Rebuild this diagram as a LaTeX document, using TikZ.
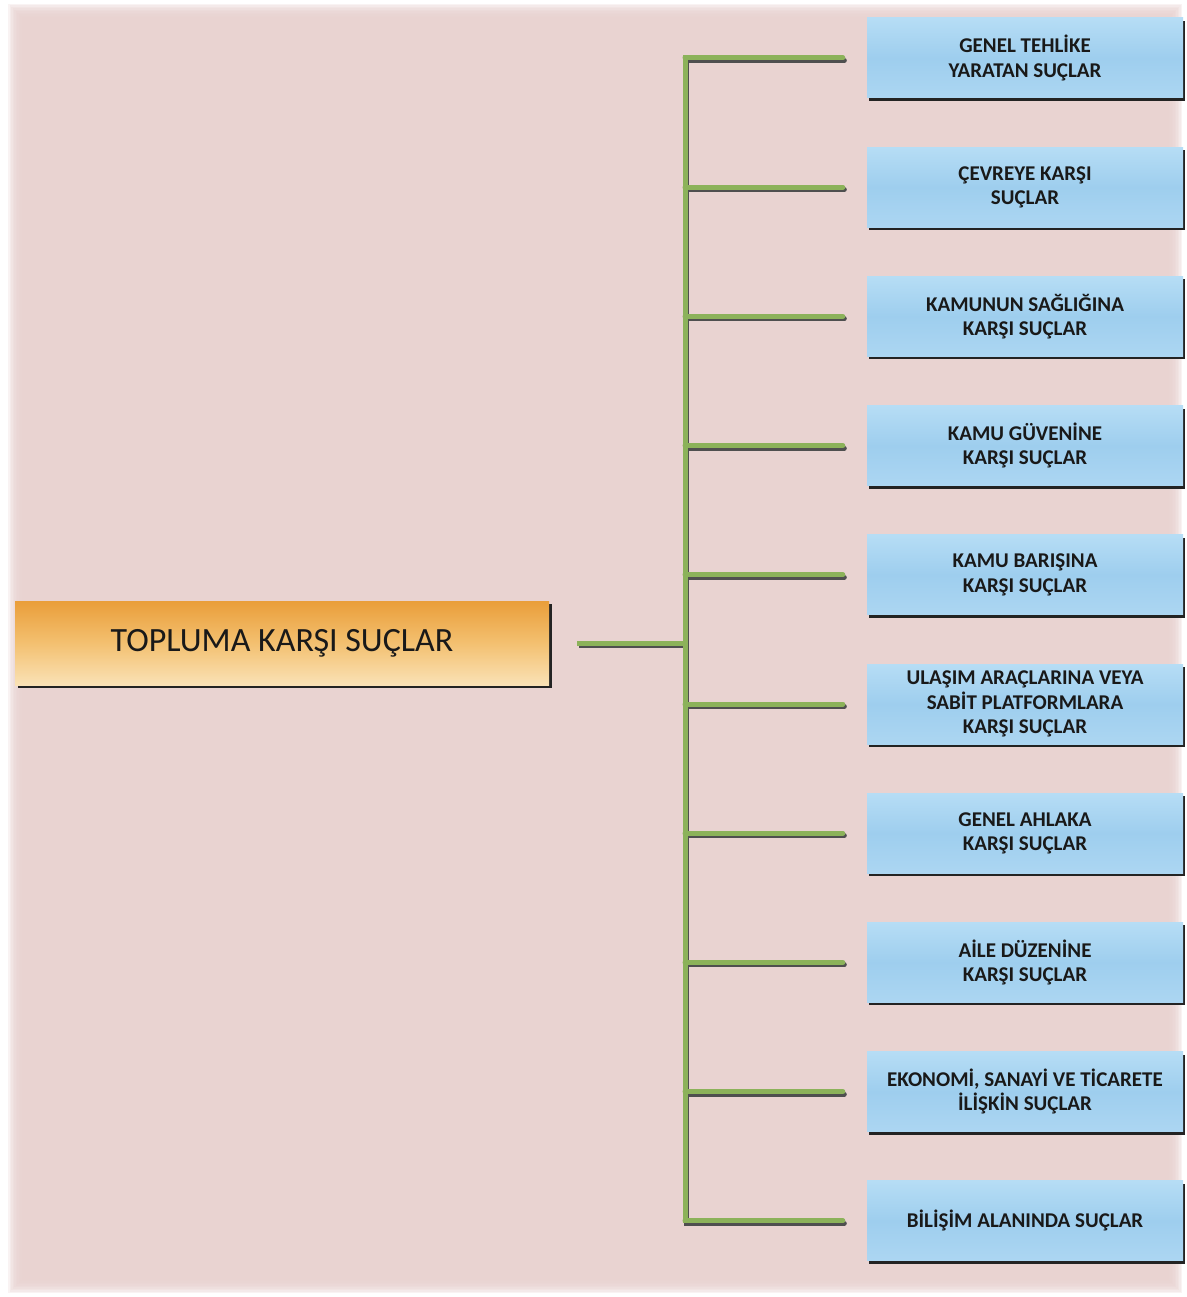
\documentclass[tikz,border=0pt]{standalone}
\usepackage{fontspec}
\setmainfont{Carlito}
\usetikzlibrary{shadows}
\definecolor{bgpink}{RGB}{233,211,209}
\definecolor{bluetop}{RGB}{182,221,245}
\definecolor{bluemid}{RGB}{158,206,238}
\definecolor{bluebot}{RGB}{172,214,242}
\definecolor{orgtop}{RGB}{234,158,58}
\definecolor{orgmid}{RGB}{243,192,112}
\definecolor{orgbot}{RGB}{250,226,182}
\definecolor{grn}{RGB}{140,178,90}
\definecolor{shd}{RGB}{35,35,35}
\begin{document}
\begin{tikzpicture}[x=1pt,y=-1pt,
  catbox/.style={minimum width=316pt, minimum height=80pt, inner sep=0pt, align=center,
    font=\bfseries\fontsize{21}{24.5}\selectfont, text=black!90,
    top color=bluetop, bottom color=bluebot, middle color=bluemid,
    drop shadow={shadow xshift=1.5pt, shadow yshift=-3pt, fill=shd, opacity=1}},
  rootbox/.style={minimum width=534pt, minimum height=84pt, inner sep=0pt, align=center,
    font=\fontsize{34}{40}\selectfont, text=black!90,
    top color=orgtop, bottom color=orgbot, middle color=orgmid,
    drop shadow={shadow xshift=2.5pt, shadow yshift=-3pt, fill=shd, opacity=1}},
  grnline/.style={draw=grn, line width=5pt},
  grnshade/.style={draw=shd!80, line width=5pt, transform canvas={shift={(1.5pt,-2.5pt)}}}]
\useasboundingbox (0,0) rectangle (1186,1297);
\fill[white] (0,0) rectangle (1186,1297);
\foreach \i in {0,...,10} \fill[bgpink,opacity=0.25] (8+\i*1.5, 4+\i*1.5) rectangle (1182-\i*1.5, 1293-\i*1.5);
\fill[bgpink] (24,20) rectangle (1166,1277);

\node[rootbox] (root) at (282,643) {TOPLUMA KARŞI SUÇLAR};

\node[catbox] (c1) at (1025,58.0) {GENEL TEHLİKE\\YARATAN SUÇLAR};
\node[catbox] (c2) at (1025,187.2) {ÇEVREYE KARŞI\\SUÇLAR};
\node[catbox] (c3) at (1025,316.4) {KAMUNUN SAĞLIĞINA\\KARŞI SUÇLAR};
\node[catbox] (c4) at (1025,445.6) {KAMU GÜVENİNE\\KARŞI SUÇLAR};
\node[catbox] (c5) at (1025,574.8) {KAMU BARIŞINA\\KARŞI SUÇLAR};
\node[catbox] (c6) at (1025,704.0) {ULAŞIM ARAÇLARINA VEYA\\SABİT PLATFORMLARA\\KARŞI SUÇLAR};
\node[catbox] (c7) at (1025,833.2) {GENEL AHLAKA\\KARŞI SUÇLAR};
\node[catbox] (c8) at (1025,962.4) {AİLE DÜZENİNE\\KARŞI SUÇLAR};
\node[catbox] (c9) at (1025,1091.6) {EKONOMİ, SANAYİ VE TİCARETE\\İLİŞKİN SUÇLAR};
\node[catbox] (c10) at (1025,1220.8) {BİLİŞİM ALANINDA SUÇLAR};

\coordinate (tr) at (685,0);

% shadows of connectors
\draw[grnshade] ([xshift=28pt]root.east) -- (root.east -| tr);
\draw[grnshade] ([yshift=2.5pt]c1.west -| tr) -- ([yshift=-2.5pt]c10.west -| tr);
\foreach \i in {1,...,10} \draw[grnshade, line cap=round] (c\i.west -| tr) -- ([xshift=-24pt]c\i.west);
% connectors
\draw[grnline] ([xshift=28pt]root.east) -- (root.east -| tr);
\draw[grnline] ([yshift=2.5pt]c1.west -| tr) -- ([yshift=-2.5pt]c10.west -| tr);
\foreach \i in {1,...,10} \draw[grnline, line cap=round] (c\i.west -| tr) -- ([xshift=-24pt]c\i.west);
\end{tikzpicture}
\end{document}
